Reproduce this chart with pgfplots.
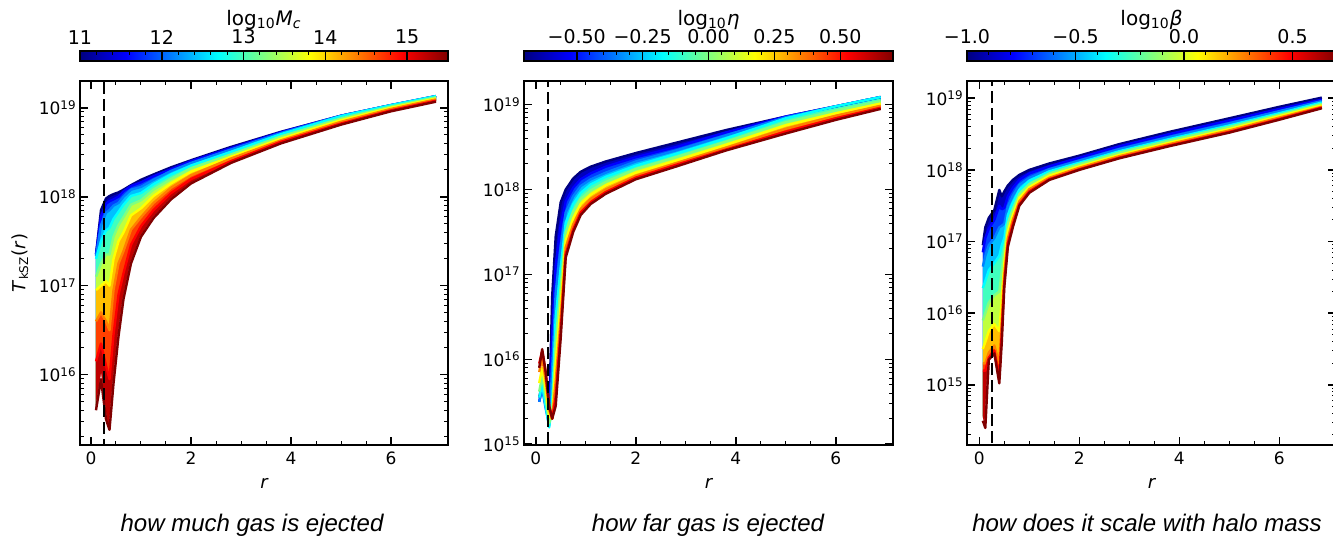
\documentclass[border=0pt]{standalone}
\usepackage{fontspec}
\setmainfont{DejaVu Sans}
\newfontfamily\capfont{Liberation Sans}
\usepackage{pgfplots}
\usepackage{pgfplotstable}
\pgfplotsset{compat=1.18}

\definecolor{j0}{rgb}{0,0,0.5}
\definecolor{j1}{rgb}{0,0,1}
\definecolor{j2}{rgb}{0,0.5,1}
\definecolor{j3}{rgb}{0,1,1}
\definecolor{j4}{rgb}{0.5,1,0.5}
\definecolor{j5}{rgb}{1,1,0}
\definecolor{j6}{rgb}{1,0.5,0}
\definecolor{j7}{rgb}{1,0,0}
\definecolor{j8}{rgb}{0.5,0,0}
\definecolor{f0}{rgb}{0,0,0.75}
\definecolor{f1}{rgb}{0,0.25,1}
\definecolor{f2}{rgb}{0,0.75,1}
\definecolor{f3}{rgb}{0.25,1,0.75}
\definecolor{f4}{rgb}{0.75,1,0.25}
\definecolor{f5}{rgb}{1,0.75,0}
\definecolor{f6}{rgb}{1,0.25,0}
\definecolor{f7}{rgb}{0.75,0,0}

% panel 1: how much gas is ejected (log10 Mc)
\pgfplotstableread{
r c0 c1 c2 c3 c4 c5 c6 c7 c8
0.1 2.24e17 2.24e17 2.14e17 2.00e17 1.26e17 8.91e16 3.98e16 1.41e16 3.98e15
0.2 7.08e17 6.03e17 4.79e17 3.16e17 1.78e17 1.00e17 5.01e16 2.24e16 8.91e15
0.3 9.55e17 8.32e17 6.61e17 4.17e17 2.24e17 1.12e17 3.98e16 1.26e16 3.16e15
0.37 1.02e18 8.91e17 7.08e17 4.47e17 2.24e17 1.00e17 3.16e16 8.91e15 2.40e15
0.45 1.07e18 9.33e17 7.94e17 5.62e17 3.55e17 2.00e17 8.91e16 2.82e16 7.94e15
0.55 1.12e18 1.00e18 8.51e17 6.76e17 4.79e17 3.16e17 1.78e17 7.94e16 2.69e16
0.65 1.20e18 1.15e18 1.00e18 8.13e17 5.89e17 3.98e17 2.45e17 1.38e17 7.08e16
0.8 1.35e18 1.32e18 1.20e18 1.02e18 8.13e17 6.17e17 4.27e17 2.88e17 1.78e17
1.0 1.55e18 1.45e18 1.29e18 1.10e18 9.12e17 7.41e17 5.89e17 4.68e17 3.55e17
1.25 1.78e18 1.70e18 1.55e18 1.38e18 1.20e18 1.02e18 8.51e17 7.08e17 5.75e17
1.6 2.14e18 2.04e18 1.95e18 1.78e18 1.58e18 1.41e18 1.26e18 1.10e18 9.33e17
2.0 2.57e18 2.51e18 2.40e18 2.24e18 2.09e18 1.91e18 1.74e18 1.58e18 1.41e18
2.8 3.63e18 3.52e18 3.40e18 3.20e18 2.98e18 2.82e18 2.69e18 2.51e18 2.40e18
3.8 5.37e18 5.30e18 5.20e18 5.05e18 4.75e18 4.50e18 4.30e18 4.15e18 3.98e18
5.0 8.13e18 8.13e18 8.13e18 8.05e18 7.60e18 7.25e18 6.95e18 6.65e18 6.46e18
6.0 1.07e19 1.07e19 1.07e19 1.07e19 1.03e19 1.00e19 9.70e18 9.35e18 9.12e18
6.9 1.35e19 1.35e19 1.35e19 1.35e19 1.31e19 1.27e19 1.24e19 1.20e19 1.17e19
}\tabA

% panel 2: how far gas is ejected (log10 eta)
\pgfplotstableread{
r c0 c1 c2 c3 c4 c5 c6 c7 c8
0.07 3.55e15 3.16e15 3.16e15 3.55e15 4.17e15 5.25e15 7.08e15 8.91e15 7.94e15
0.13 5.25e15 4.79e15 4.47e15 5.01e15 6.31e15 7.94e15 1.05e16 1.26e16 1.32e16
0.2 3.16e15 2.82e15 2.63e15 2.82e15 3.55e15 4.47e15 5.62e15 7.08e15 7.08e15
0.27 2.51e15 2.00e15 1.66e15 1.58e15 1.78e15 2.14e15 2.51e15 2.82e15 2.82e15
0.33 5.62e16 2.00e16 7.94e15 3.16e15 2.24e15 2.00e15 2.00e15 2.00e15 2.00e15
0.4 2.82e17 1.29e17 6.17e16 3.09e16 1.62e16 9.12e15 5.50e15 3.63e15 2.82e15
0.5 7.08e17 3.80e17 2.09e17 1.20e17 7.24e16 4.47e16 3.02e16 2.19e16 1.78e16
0.6 1.00e18 7.24e17 5.37e17 4.07e17 3.16e17 2.51e17 2.09e17 1.74e17 1.58e17
0.75 1.35e18 1.05e18 8.32e17 6.76e17 5.50e17 4.57e17 3.89e17 3.39e17 3.16e17
0.9 1.62e18 1.32e18 1.10e18 9.12e17 7.76e17 6.76e17 5.89e17 5.37e17 5.01e17
1.1 1.86e18 1.55e18 1.32e18 1.15e18 9.77e17 8.71e17 7.76e17 7.08e17 6.76e17
1.4 2.14e18 1.86e18 1.58e18 1.41e18 1.23e18 1.12e18 1.00e18 9.33e17 8.91e17
2.0 2.69e18 2.40e18 2.14e18 1.91e18 1.74e18 1.58e18 1.45e18 1.38e18 1.32e18
2.8 3.55e18 3.16e18 2.88e18 2.63e18 2.40e18 2.19e18 2.04e18 1.95e18 1.86e18
3.8 5.01e18 4.70e18 4.35e18 4.00e18 3.65e18 3.35e18 3.10e18 2.95e18 2.88e18
5.0 7.24e18 7.24e18 7.10e18 6.90e18 6.20e18 5.70e18 5.20e18 4.80e18 4.57e18
6.0 9.55e18 9.55e18 9.55e18 9.55e18 8.50e18 7.90e18 7.40e18 6.90e18 6.61e18
6.9 1.23e19 1.23e19 1.23e19 1.23e19 1.10e19 1.03e19 9.70e18 9.20e18 8.91e18
}\tabB

% panel 3: how does it scale with halo mass (log10 beta)
\pgfplotstableread{
r c0 c1 c2 c3 c4 c5 c6 c7 c8
0.07 8.91e16 7.08e16 4.47e16 2.24e16 7.94e15 3.16e15 2.00e15 1.58e15 3.16e14
0.12 1.58e17 1.12e17 6.31e16 2.82e16 1.00e16 3.98e15 2.00e15 1.58e15 2.51e14
0.19 2.14e17 1.51e17 8.91e16 3.98e16 1.41e16 5.62e15 2.82e15 2.40e15 2.24e15
0.3 2.75e17 2.00e17 1.12e17 5.01e16 1.78e16 7.08e15 3.55e15 3.02e15 2.75e15
0.4 5.25e17 3.16e17 1.58e17 6.31e16 2.00e16 5.62e15 2.00e15 1.26e15 1.05e15
0.45 4.27e17 2.82e17 1.66e17 8.91e16 3.98e16 1.58e16 7.94e15 5.62e15 3.98e15
0.5 5.01e17 2.95e17 1.78e17 1.12e17 7.41e16 5.01e16 3.55e16 2.69e16 2.29e16
0.57 6.03e17 4.27e17 3.09e17 2.34e17 1.78e17 1.38e17 1.10e17 9.33e16 8.32e16
0.67 7.24e17 5.62e17 4.37e17 3.47e17 2.82e17 2.34e17 2.00e17 1.74e17 1.58e17
0.8 8.51e17 7.24e17 6.17e17 5.25e17 4.57e17 4.07e17 3.63e17 3.31e17 3.16e17
1.0 1.00e18 8.91e17 7.76e17 7.08e17 6.31e17 5.75e17 5.37e17 5.01e17 4.79e17
1.4 1.23e18 1.12e18 1.02e18 9.55e17 8.91e17 8.32e17 7.76e17 7.41e17 7.24e17
2.0 1.58e18 1.48e18 1.35e18 1.26e18 1.20e18 1.12e18 1.07e18 1.02e18 1.00e18
2.8 2.29e18 2.14e18 1.95e18 1.82e18 1.74e18 1.62e18 1.55e18 1.48e18 1.45e18
3.8 3.39e18 3.16e18 2.88e18 2.69e18 2.57e18 2.40e18 2.29e18 2.19e18 2.14e18
5.0 5.25e18 4.90e18 4.47e18 4.17e18 3.98e18 3.72e18 3.55e18 3.39e18 3.31e18
6.0 7.59e18 7.08e18 6.61e18 6.17e18 5.89e18 5.62e18 5.37e18 5.13e18 5.01e18
6.85 1.02e19 9.55e18 9.12e18 8.71e18 8.32e18 7.94e18 7.59e18 7.41e18 7.24e18
}\tabC

\pgfplotsset{
  myframe/.style={
    scale only axis, height=182pt,
    axis on top,
    xtick={0,2,4,6}, minor x tick num=3,
    tick align=inside,
    major tick length=4pt, minor tick length=2pt,
    major tick style={black,line width=0.8pt},
    minor tick style={black,line width=0.5pt},
    axis line style={line width=0.8pt},
    tick label style={font=\fontsize{8.5}{10}\selectfont},
    yticklabel style={inner sep=1.5pt},
    xlabel={\itshape r},
    label style={font=\fontsize{9}{10}\selectfont},
  },
  mycbar/.style={
    at={(parent axis.north west)}, anchor=south west, yshift=18.5pt,
    scale only axis, height=5pt,
    xtick pos=right, xticklabel pos=right,
    tick align=inside,
    major tick length=5pt, minor tick length=2.2pt,
    major tick style={black,line width=0.8pt},
    minor tick style={black,line width=0.5pt},
    axis line style={line width=0.6pt},
    minor x tick num=4,
    tick label style={font=\fontsize{9.5}{11}\selectfont},
    xlabel style={at={(axis description cs:0.5,1)}, anchor=base, yshift=13pt,
      font=\fontsize{10}{12}\selectfont},
  },
  mycrv/.style={line width=1.2pt, line join=round},
  myfill/.style={draw=none, fill=#1},
  mywhite/.style={draw=white, line width=0.8pt, fill=white},
  myvl/.style={black, line width=1pt, dash pattern=on 6pt off 2.5pt},
}

\begin{document}
\begin{tikzpicture}
\useasboundingbox (0,0) rectangle (666.5pt,268pt);

% ---------- panel 1
\begin{axis}[myframe, at={(40pt,45.5pt)}, anchor=south west, width=184pt,
  ymode=log, log basis y=10,
  yticklabel={10\textsuperscript{\pgfmathparse{int(round(\tick))}\pgfmathresult}},
  xticklabels={0,2,4,6},
  xmin=-0.22, xmax=7.14, ymin=1.62e15, ymax=2.0e19,
  ylabel={\textit{T}\textsubscript{kSZ}(\textit{r})},
  ylabel style={at={(axis description cs:-0.163,0.5)}, anchor=center},
  colormap/jet,
  colorbar horizontal,
  point meta min=11, point meta max=15.5,
  colorbar style={mycbar, width=184pt, xtick={11,12,13,14,15}, xticklabels={11,12,13,14,15},
    xlabel={log\textsubscript{10}\textit{M\textsubscript{c}}}},
]
\addplot[myfill=f0] table[x=r,y=c0] {\tabA} \closedcycle;
\addplot[myfill=f1] table[x=r,y=c1] {\tabA} \closedcycle;
\addplot[myfill=f2] table[x=r,y=c2] {\tabA} \closedcycle;
\addplot[myfill=f3] table[x=r,y=c3] {\tabA} \closedcycle;
\addplot[myfill=f4] table[x=r,y=c4] {\tabA} \closedcycle;
\addplot[myfill=f5] table[x=r,y=c5] {\tabA} \closedcycle;
\addplot[myfill=f6] table[x=r,y=c6] {\tabA} \closedcycle;
\addplot[myfill=f7] table[x=r,y=c7] {\tabA} \closedcycle;
\addplot[mywhite] table[x=r,y=c8] {\tabA} \closedcycle;
\addplot[j0,mycrv] table[x=r,y=c0] {\tabA};
\addplot[j1,mycrv] table[x=r,y=c1] {\tabA};
\addplot[j2,mycrv] table[x=r,y=c2] {\tabA};
\addplot[j3,mycrv] table[x=r,y=c3] {\tabA};
\addplot[j4,mycrv] table[x=r,y=c4] {\tabA};
\addplot[j5,mycrv] table[x=r,y=c5] {\tabA};
\addplot[j6,mycrv] table[x=r,y=c6] {\tabA};
\addplot[j7,mycrv] table[x=r,y=c7] {\tabA};
\addplot[j8,mycrv] table[x=r,y=c8] {\tabA};
\addplot[myvl] coordinates {(0.27,1e14) (0.27,1e20)};
\end{axis}

% ---------- panel 2
\begin{axis}[myframe, at={(262pt,45.5pt)}, anchor=south west, width=184.5pt,
  ymode=log, log basis y=10,
  yticklabel={10\textsuperscript{\pgfmathparse{int(round(\tick))}\pgfmathresult}},
  xticklabels={0,2,4,6},
  xmin=-0.234, xmax=7.146, ymin=9.8e14, ymax=1.9e19,
  colormap/jet,
  colorbar horizontal,
  point meta min=-0.7, point meta max=0.7,
  colorbar style={mycbar, width=184.5pt, xtick={-0.5,-0.25,0,0.25,0.5},
    xticklabels={−0.50,−0.25,0.00,0.25,0.50},
    xlabel={log\textsubscript{10}\textit{η}}},
]
\addplot[myfill=f0] table[x=r,y=c0] {\tabB} \closedcycle;
\addplot[myfill=f1] table[x=r,y=c1] {\tabB} \closedcycle;
\addplot[myfill=f2] table[x=r,y=c2] {\tabB} \closedcycle;
\addplot[myfill=f3] table[x=r,y=c3] {\tabB} \closedcycle;
\addplot[myfill=f4] table[x=r,y=c4] {\tabB} \closedcycle;
\addplot[myfill=f5] table[x=r,y=c5] {\tabB} \closedcycle;
\addplot[myfill=f6] table[x=r,y=c6] {\tabB} \closedcycle;
\addplot[myfill=f7] table[x=r,y=c7] {\tabB} \closedcycle;
\addplot[mywhite] table[x=r,y=c8] {\tabB} \closedcycle;
\addplot[j0,mycrv] table[x=r,y=c0] {\tabB};
\addplot[j1,mycrv] table[x=r,y=c1] {\tabB};
\addplot[j2,mycrv] table[x=r,y=c2] {\tabB};
\addplot[j3,mycrv] table[x=r,y=c3] {\tabB};
\addplot[j4,mycrv] table[x=r,y=c4] {\tabB};
\addplot[j5,mycrv] table[x=r,y=c5] {\tabB};
\addplot[j6,mycrv] table[x=r,y=c6] {\tabB};
\addplot[j7,mycrv] table[x=r,y=c7] {\tabB};
\addplot[j8,mycrv] table[x=r,y=c8] {\tabB};
\addplot[myvl] coordinates {(0.25,1e14) (0.25,1e20)};
\end{axis}

% ---------- panel 3
\begin{axis}[myframe, at={(483.5pt,45.5pt)}, anchor=south west, width=184.5pt,
  ymode=log, log basis y=10,
  yticklabel={10\textsuperscript{\pgfmathparse{int(round(\tick))}\pgfmathresult}},
  xticklabels={0,2,4,6},
  xmin=-0.246, xmax=7.134, ymin=1.45e14, ymax=1.74e19,
  colormap/jet,
  colorbar horizontal,
  point meta min=-1.0, point meta max=0.7,
  colorbar style={mycbar, width=184.5pt, xtick={-1,-0.5,0,0.5},
    xticklabels={−1.0,−0.5,0.0,0.5},
    xlabel={log\textsubscript{10}\textit{β}}},
]
\addplot[myfill=f0] table[x=r,y=c0] {\tabC} \closedcycle;
\addplot[myfill=f1] table[x=r,y=c1] {\tabC} \closedcycle;
\addplot[myfill=f2] table[x=r,y=c2] {\tabC} \closedcycle;
\addplot[myfill=f3] table[x=r,y=c3] {\tabC} \closedcycle;
\addplot[myfill=f4] table[x=r,y=c4] {\tabC} \closedcycle;
\addplot[myfill=f5] table[x=r,y=c5] {\tabC} \closedcycle;
\addplot[myfill=f6] table[x=r,y=c6] {\tabC} \closedcycle;
\addplot[myfill=f7] table[x=r,y=c7] {\tabC} \closedcycle;
\addplot[mywhite] table[x=r,y=c8] {\tabC} \closedcycle;
\addplot[j0,mycrv] table[x=r,y=c0] {\tabC};
\addplot[j1,mycrv] table[x=r,y=c1] {\tabC};
\addplot[j2,mycrv] table[x=r,y=c2] {\tabC};
\addplot[j3,mycrv] table[x=r,y=c3] {\tabC};
\addplot[j4,mycrv] table[x=r,y=c4] {\tabC};
\addplot[j5,mycrv] table[x=r,y=c5] {\tabC};
\addplot[j6,mycrv] table[x=r,y=c6] {\tabC};
\addplot[j7,mycrv] table[x=r,y=c7] {\tabC};
\addplot[j8,mycrv] table[x=r,y=c8] {\tabC};
\addplot[myvl] coordinates {(0.25,1e13) (0.25,1e20)};
\end{axis}

% ---------- captions
\node[font=\capfont\itshape\fontsize{12}{14}\selectfont, anchor=base] at (126pt,2.4pt) {how much gas is ejected};
\node[font=\capfont\itshape\fontsize{12}{14}\selectfont, anchor=base] at (354pt,2.4pt) {how far gas is ejected};
\node[font=\capfont\itshape\fontsize{12}{14}\selectfont, anchor=base] at (573.5pt,2.4pt) {how does it scale with halo mass};
\end{tikzpicture}
\end{document}
